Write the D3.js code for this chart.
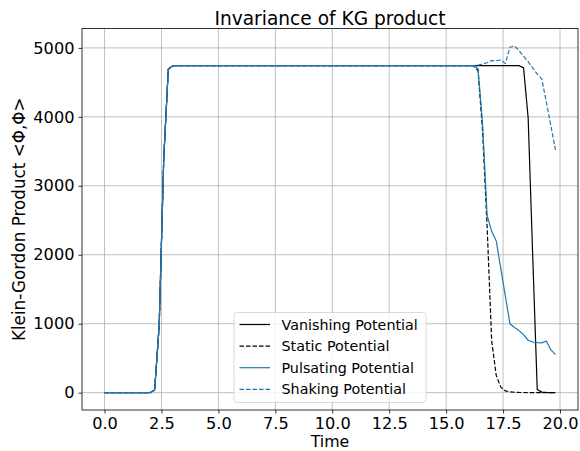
<!DOCTYPE html>
<html><head><meta charset="utf-8">
<script src="https://cdn.jsdelivr.net/npm/d3@7"></script>
<style>
html,body{margin:0;padding:0;background:#fff;}
text{font-family:"DejaVu Sans",sans-serif;fill:#000;}
</style></head>
<body><svg id="chart" width="580" height="451"></svg>
<script>
// ---- data ----
const riseTime  = [0.0, 2.0, 2.2, 2.4, 2.6, 2.8, 3.0];
const riseValue = [0, 0, 40, 980, 3400, 4690, 4743];
const tailTime  = [16.2, 16.4, 16.6, 16.8, 17.0, 17.2, 17.4, 17.6, 17.8, 18.0,
                   18.2, 18.4, 18.6, 18.8, 19.0, 19.2, 19.4, 19.6, 19.8];
const vanishingTail = [4743, 4743, 4743, 4743, 4743, 4743, 4743, 4743, 4743, 4743,
                       4743, 4710, 3990, 2000, 45, 8, 3, 1, 0];
const staticTail    = [4743, 4670, 3800, 2400, 750, 250, 80, 25, 12, 6,
                       3, 2, 1, 1, 0, 0, 0, 0, 0];
const pulsatingTail = [4743, 4700, 3900, 2570, 2340, 2200, 1800, 1400, 1000, 945,
                       900, 840, 760, 735, 725, 722, 750, 620, 555];
const shakingTail   = [4743, 4750, 4765, 4785, 4815, 4815, 4825, 4775, 5010, 5030,
                       4960, 4880, 4800, 4710, 4620, 4550, 4210, 3870, 3520];
const seriesNames = ["Vanishing Potential", "Static Potential", "Pulsating Potential", "Shaking Potential"];
const xTicks = [0, 2.5, 5, 7.5, 10, 12.5, 15, 17.5, 20];
const yTicks = [0, 1000, 2000, 3000, 4000, 5000];

const tails = [vanishingTail, staticTail, pulsatingTail, shakingTail];
const styles = [
  {color:"#000000", dash:null},
  {color:"#000000", dash:"4.5,2"},
  {color:"#1f77b4", dash:null},
  {color:"#1f77b4", dash:"4.5,2"}
];
const series = seriesNames.map((name,i)=>({
  name,
  points: riseTime.map((t,j)=>[t, riseValue[j]]).concat(tailTime.map((t,j)=>[t, tails[i][j]])),
  style: styles[i]
}));

// ---- layout ----
const L = 82, R = 578, T = 28.5, B = 410;
const svg = d3.select("#chart");

const allX = series.flatMap(s=>s.points.map(p=>p[0]));
const allY = series.flatMap(s=>s.points.map(p=>p[1]));
const [x0,x1] = d3.extent(allX), [y0,y1] = d3.extent(allY);
const px = (x1-x0)*0.05, py = (y1-y0)*0.05;
const x = d3.scaleLinear().domain([x0-px, x1+px]).range([L, R]);
const y = d3.scaleLinear().domain([y0-py, y1+py]).range([B, T]);

// grid
const grid = svg.append("g");
grid.selectAll("line.gx").data(xTicks).join("line")
  .attr("x1", d=>x(d)).attr("x2", d=>x(d)).attr("y1", T).attr("y2", B)
  .attr("stroke", "#b0b0b0").attr("stroke-width", 0.8);
grid.selectAll("line.gy").data(yTicks).join("line")
  .attr("y1", d=>y(d)).attr("y2", d=>y(d)).attr("x1", L).attr("x2", R)
  .attr("stroke", "#b0b0b0").attr("stroke-width", 0.8);

// clip
svg.append("clipPath").attr("id","clip").append("rect")
  .attr("x", L).attr("y", T).attr("width", R-L).attr("height", B-T);

const line = d3.line().x(d=>x(d[0])).y(d=>y(d[1]));
const lines = svg.append("g").attr("clip-path","url(#clip)");
series.forEach(s=>{
  lines.append("path").attr("d", line(s.points))
    .attr("fill","none").attr("stroke", s.style.color).attr("stroke-width", 1.2)
    .attr("stroke-dasharray", s.style.dash).attr("stroke-linejoin","round");
});

// axes
const xAxis = d3.axisBottom(x).tickValues(xTicks).tickFormat(d3.format(".1f")).tickSize(3.5).tickPadding(4);
const yAxis = d3.axisLeft(y).tickValues(yTicks).tickFormat(d3.format("d")).tickSize(3.5).tickPadding(4);
const gx = svg.append("g").attr("transform", `translate(0,${B})`).call(xAxis);
const gy = svg.append("g").attr("transform", `translate(${L},0)`).call(yAxis);
[gx, gy].forEach(g=>{
  g.select(".domain").remove();
  g.selectAll(".tick line").attr("stroke","#000").attr("stroke-width",0.8);
  g.selectAll(".tick text").attr("font-size","16.2px").attr("font-family","DejaVu Sans").attr("fill","#000");
});
gx.selectAll(".tick text").attr("dy","0.70em");

// spines
svg.append("rect").attr("x",L).attr("y",T).attr("width",R-L).attr("height",B-T)
  .attr("fill","none").attr("stroke","#000").attr("stroke-width",0.8);

// titles
svg.append("text").attr("x",(L+R)/2).attr("y",24.5).attr("text-anchor","middle")
  .attr("font-size","18.6px").text("Invariance of KG product");
svg.append("text").attr("x",(L+R)/2).attr("y",447.2).attr("text-anchor","middle")
  .attr("font-size","15.8px").text("Time");
svg.append("text").attr("transform",`translate(25,${(T+B)/2}) rotate(-90)`).attr("text-anchor","middle")
  .attr("font-size","16.8px").text("Klein-Gordon Product <Φ,Φ>");

// legend
const lg = svg.append("g");
lg.append("rect").attr("x",234).attr("y",312.5).attr("width",192).attr("height",90)
  .attr("rx",3).attr("fill","#fff").attr("fill-opacity",0.8)
  .attr("stroke","#d0d0d0").attr("stroke-width",0.8);
series.forEach((s,i)=>{
  const yy = 324.5 + i*21.6;
  lg.append("line").attr("x1",239.5).attr("x2",270).attr("y1",yy).attr("y2",yy)
    .attr("stroke",s.style.color).attr("stroke-width",1.2).attr("stroke-dasharray",s.style.dash);
  lg.append("text").attr("x",281.5).attr("y",yy).attr("dy","0.36em")
    .attr("font-size","14.3px").text(s.name);
});
</script></body></html>
